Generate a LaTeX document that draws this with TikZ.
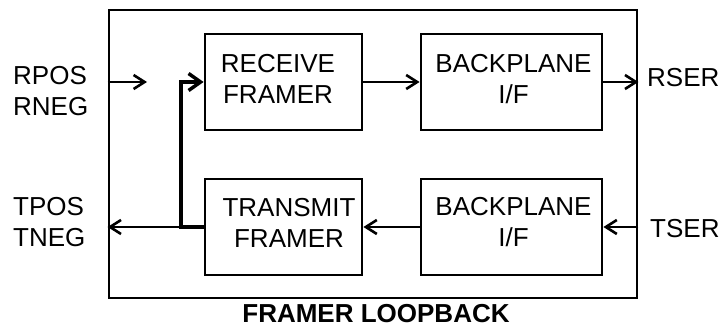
\documentclass[tikz,border=0pt]{standalone}
\usepackage{fontspec}
\setmainfont{Liberation Sans}
\usetikzlibrary{arrows.meta}
\begin{document}
\begin{tikzpicture}[x=1pt,y=1pt,
  blk/.style={draw,line width=2.8pt,inner sep=0pt,minimum height=96pt},
  lbl/.style={inner sep=0pt,align=center,font=\fontsize{26}{31}\selectfont},
  lbll/.style={inner sep=0pt,align=left,anchor=west,font=\fontsize{26}{31}\selectfont},
  arr/.style={line width=2.6pt,-{Straight Barb[length=11pt,width=14pt,line width=2.6pt]}},
  thk/.style={line width=4.5pt,line join=miter,-{Straight Barb[length=12pt,width=17pt,line width=3.5pt]}}]
\useasboundingbox (0,0) rectangle (726,329);
% outer box
\node[draw,line width=2.8pt,inner sep=0pt,minimum width=528pt,minimum height=288pt] (outer) at (373,175) {};
% blocks
\node[blk,minimum width=157pt] (rf) at (283.5,247) {};
\node[blk,minimum width=181pt] (br) at (511.5,247) {};
\node[blk,minimum width=157pt] (tf) at (283.5,102) {};
\node[blk,minimum width=181pt] (bt) at (511.5,102) {};
% block texts
\node[lbl] (rft) at (278,250) {RECEIVE\\FRAMER};
\node[lbl] (brt) at (513.5,250) {BACKPLANE\\I/F};
\node[lbl] (tft) at (289,106) {TRANSMIT\\FRAMER};
\node[lbl] (btt) at (513.5,106.5) {BACKPLANE\\I/F};
% outside labels
\node[lbll] (rpos) at (13,237.5) {RPOS\\RNEG};
\node[lbll] (tpos) at (13,107) {TPOS\\TNEG};
\node[lbll] (rser) at (647,251) {RSER};
\node[lbll] (tser) at (650,100) {TSER};
\node[inner sep=0pt,font=\fontsize{26}{31}\selectfont\bfseries] (title) at (376,15.5) {FRAMER LOOPBACK};
% connectors
\coordinate (rin) at (147,247);
\coordinate (lp) at (181,102);
\draw[arr] (rf.west -| outer.west) -- (rin);
\draw[arr] (rf.east) -- (br.west);
\draw[arr] (br.east) -- (br.east -| outer.east);
\draw[arr] (bt.east -| outer.east) -- (bt.east);
\draw[arr] (bt.west) -- (tf.east);
\draw[arr] (tf.west) -- (tf.west -| outer.west);
\draw[thk] (tf.west) -- (lp) |- (rf.west);
\end{tikzpicture}
\end{document}
